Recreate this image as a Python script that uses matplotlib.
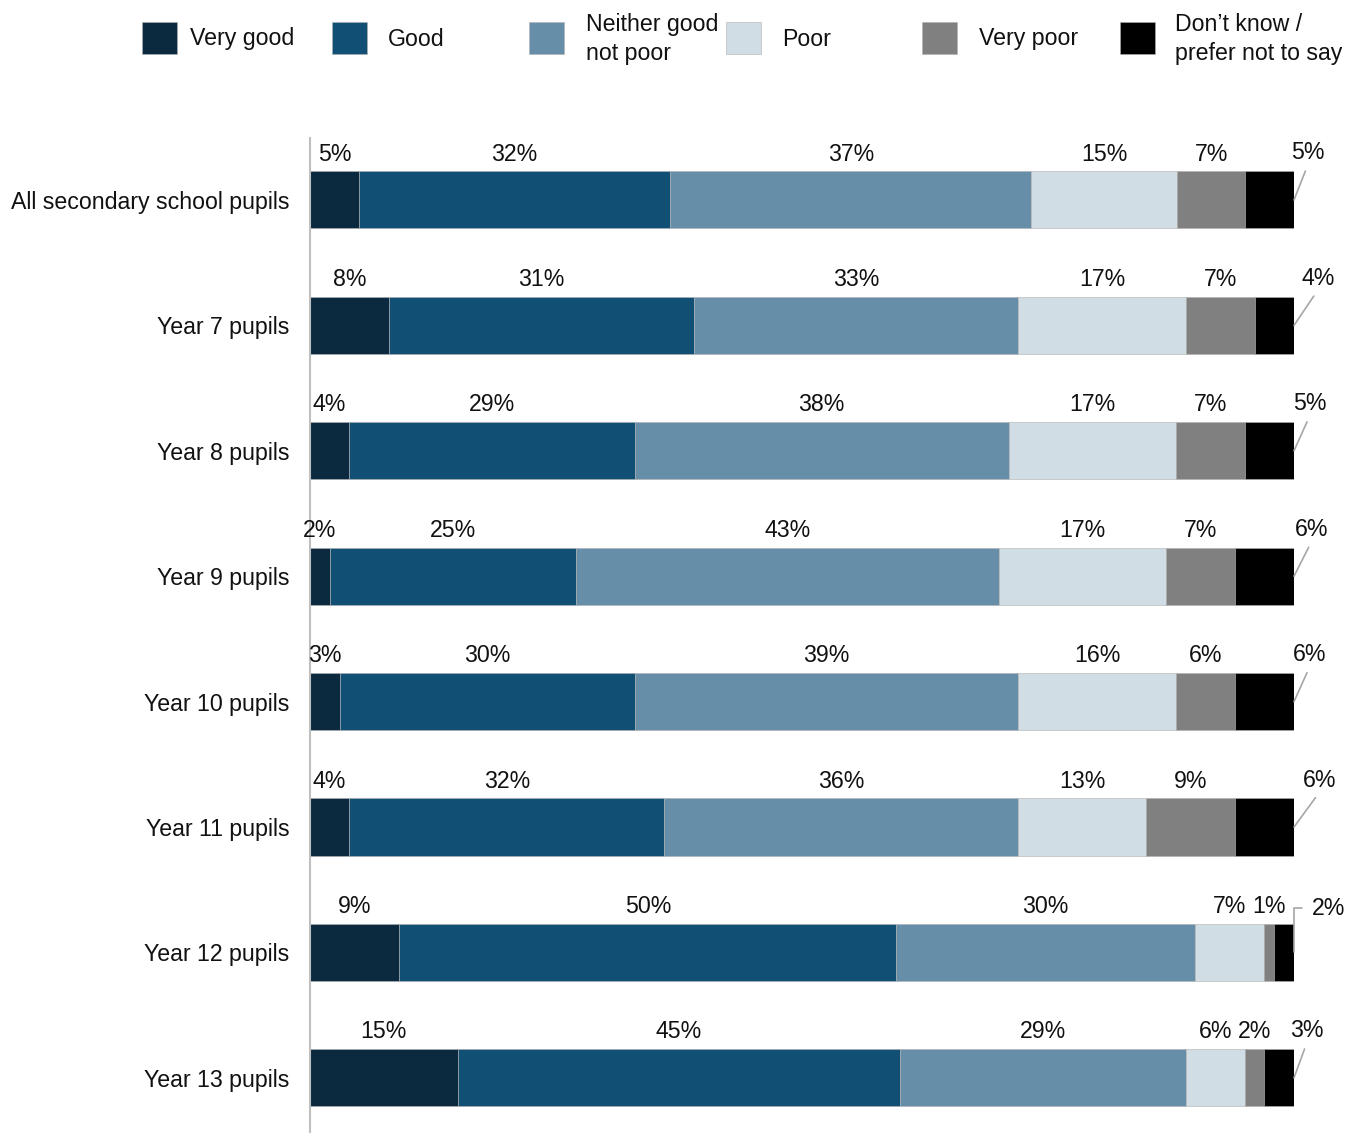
import matplotlib
matplotlib.use("Agg")
import matplotlib.pyplot as plt
from matplotlib.patches import Rectangle

plt.rcParams["font.family"] = ["Liberation Sans", "DejaVu Sans"]

# Survey rows (top to bottom)
groups = [
    "All secondary school pupils",
    "Year 7 pupils",
    "Year 8 pupils",
    "Year 9 pupils",
    "Year 10 pupils",
    "Year 11 pupils",
    "Year 12 pupils",
    "Year 13 pupils",
]

# Response categories
responses = ["Very good", "Good", "Neither good\nnot poor", "Poor",
             "Very poor", "Don\u2019t know /\nprefer not to say"]

# Percentages per response, one value per group
very_good = [5, 8, 4, 2, 3, 4, 9, 15]
good = [32, 31, 29, 25, 30, 32, 50, 45]
neither = [37, 33, 38, 43, 39, 36, 30, 29]
poor = [15, 17, 17, 17, 16, 13, 7, 6]
very_poor = [7, 7, 7, 7, 6, 9, 1, 2]
dont_know = [5, 4, 5, 6, 6, 6, 2, 3]

series = [very_good, good, neither, poor, very_poor, dont_know]
colors = ["#0B2A40", "#114F75", "#668EA8", "#D0DDE5", "#808080", "#000000"]

# 100% stacked: each row is scaled to its own total (rounded labels may not sum to 100)
row_totals = [sum(vals) for vals in zip(*series)]
shares = [[v / t * 100 for v, t in zip(vals, row_totals)] for vals in series]

W, H = 1346, 1133
FS = 16.7
fig = plt.figure(figsize=(W / 100, H / 100), dpi=100)
ax = fig.add_axes([310 / W, 0, 984 / W, (H - 138) / H])

bar_h = 0.455
rows = list(range(len(groups)))
lefts = [0.0] * len(groups)
for vals, widths, col in zip(series, shares, colors):
    ax.barh(rows, widths, left=lefts, height=bar_h, color=col,
            edgecolor="#B0B0B0", linewidth=0.4)
    if col != colors[-1]:
        for r, v, w, l in zip(rows, vals, widths, lefts):
            ax.annotate(f"{v}%", xy=(l + w / 2, r - bar_h / 2),
                        xytext=(0, 12.5), textcoords="offset points",
                        ha="center", va="center", fontsize=FS, color="#111111")
    lefts = [l + w for l, w in zip(lefts, widths)]

# Last segment: value labels sit to the right, joined by a leader line
label_dx = [14, 24, 16, 18, 16, 26, 18, 13]  # px to the right of bar end
elbow = [False, False, False, False, False, False, True, False]
for r, v, end, dx, bent in zip(rows, dont_know, lefts, label_dx, elbow):
    if bent:
        ax.annotate(f"{v}%", xy=(end, r), xytext=(dx * 0.72, 44 * 0.72),
                    textcoords="offset points", ha="left", va="center",
                    fontsize=FS, color="#111111", annotation_clip=False,
                    arrowprops=dict(arrowstyle="-", color="#A6A6A6", lw=1.2,
                                    shrinkA=5, shrinkB=0, relpos=(0, 0.5),
                                    connectionstyle="angle,angleA=180,angleB=90,rad=0"))
    else:
        ax.annotate(f"{v}%", xy=(end, r), xytext=(dx * 0.72, 47 * 0.72),
                    textcoords="offset points", ha="center", va="center",
                    fontsize=FS, color="#111111", annotation_clip=False,
                    arrowprops=dict(arrowstyle="-", color="#A6A6A6", lw=1.2,
                                    shrinkA=3, shrinkB=0, relpos=(0.5, 0)))

ax.set_xlim(0, 100)
ax.set_ylim(7.44, -0.494)
ax.set_yticks(rows)
ax.set_yticklabels(groups, fontsize=FS, color="#111111")
ax.tick_params(axis="y", length=0, pad=15)
ax.set_xticks([])
for side in ["top", "right", "bottom"]:
    ax.spines[side].set_visible(False)
ax.spines["left"].set_color("#BFBFBF")
ax.spines["left"].set_linewidth(1.5)

# Legend row across the top
sq_x = [142, 332, 529, 726, 922, 1120]
txt_x = [190, 388, 586, 782, 979, 1175]
for lab, col, sx, tx in zip(responses, colors, sq_x, txt_x):
    fig.patches.append(Rectangle((sx / W, 1 - 54 / H), 35 / W, 32 / H,
                                 transform=fig.transFigure, facecolor=col,
                                 edgecolor="#B0B0B0", linewidth=0.4))
    fig.text(tx / W, 1 - 39 / H, lab, ha="left", va="center",
             fontsize=FS, color="#111111", linespacing=1.3)

fig.savefig("out.png", dpi=100)
